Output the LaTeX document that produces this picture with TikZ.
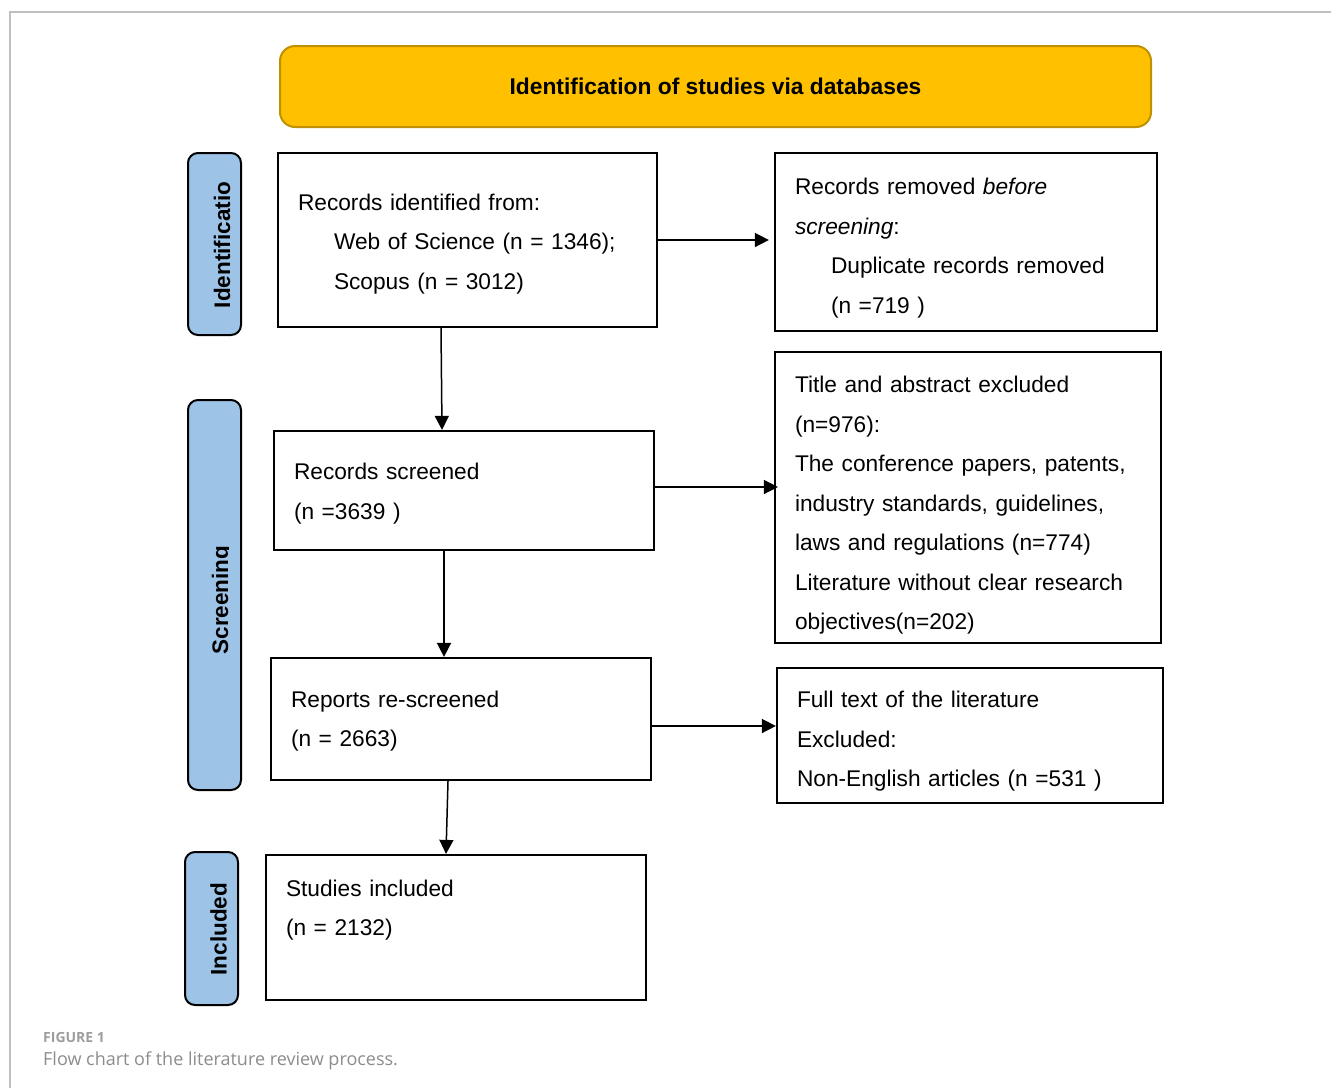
\documentclass[tikz,border=0pt]{standalone}
\usepackage{fontspec}
\setmainfont{Liberation Sans}
\newfontfamily\capfont{Open Sans}
\usetikzlibrary{arrows.meta}

\definecolor{headfill}{HTML}{FFC000}
\definecolor{headline}{HTML}{BF9000}
\definecolor{stagefill}{HTML}{9DC3E6}
\definecolor{framegray}{HTML}{BFBFBF}
\definecolor{capgray}{HTML}{8C8C8C}

\tikzset{
  box/.style={draw, line width=2.2pt, align=left, inner xsep=20pt, inner ysep=0pt,
    font=\fontsize{22.7}{39.5}\selectfont},
  drop/.style={execute at begin node={\rule{0pt}{#1}}},
  stage/.style={draw, line width=2pt, fill=stagefill, rounded corners=10pt, minimum width=53pt},
  stagetext/.style={rotate=90, font=\fontsize{22.5}{27}\selectfont\bfseries},
  arr/.style={line width=1.5pt, -{Triangle[length=14pt,width=14pt]}},
}

\begin{document}
\begin{tikzpicture}[x=1pt, y=-1pt]
    \useasboundingbox (0,0) rectangle (1331,1088);
    % frame of the figure
    \draw[framegray, line width=1.5pt] (10,1088) -- (10,12) -- (1331,12);

    \node[draw=headline, fill=headfill, line width=2pt, rounded corners=15pt,
        minimum width=871pt, minimum height=81pt,
        font=\fontsize{22.8}{27}\selectfont\bfseries] (head) at (715.5,86.5) {Identification of studies via databases};

    % stages
    \node[stage, minimum height=182pt] (idlab) at (214.5,244) {};
    \node[stagetext] (idtxt) at (222,245) {Identificatio};
    \node[stage, minimum height=390pt] (scrlab) at (214.5,595) {};
    \begin{scope}
        \clip (188,400) rectangle (228.2,790);
        \node[stagetext] (scrtxt) at (222.3,600) {Screening};
    \end{scope}
    \node[stage, minimum height=153pt] (inclab) at (211.5,928.5) {};
    \node[stagetext] (inctxt) at (218.5,929) {Included};

    % main column
    \node[box, drop=24.5pt, text width=339pt, minimum height=174pt] (ident) at (467.5,240)
        {Records identified from:\\\hspace*{36pt}Web of Science (n = 1346);\\\hspace*{36pt}Scopus (n = 3012)};
    \node[box, drop=22.5pt, text width=340pt, minimum height=119pt] (screened) at (464,490.5)
        {Records screened\\(n =3639 )};
    \node[box, drop=20.5pt, text width=340pt, minimum height=122pt] (rescr) at (461,719)
        {Reports re-screened\\(n = 2663)};
    \node[box, text width=340pt, minimum height=145pt] (incl) at (456,927.5)
        {Studies included\\(n = 2132)\\\mbox{}};

    % exclusions
    \node[box, drop=28.5pt, text width=342pt, minimum height=178pt] (removed) at (966,242)
        {Records removed \textit{before}\\\textit{screening}:\\\hspace*{36pt}Duplicate records removed\\\hspace*{36pt}(n =719 )};
    \node[box, drop=32.5pt, text width=346pt, minimum height=291pt] (excl) at (968,497.5)
        {Title and abstract excluded\\(n=976):\\The conference papers, patents,\\industry standards, guidelines,\\laws and regulations (n=774)\\Literature without clear research\\objectives(n=202)};
    \node[box, drop=28.5pt, text width=346pt, minimum height=135pt] (fulltext) at (970,735.5)
        {Full text of the literature\\Excluded:\\Non-English articles (n =531 )};

    \draw[arr] ([xshift=-26.5pt]ident.south) -- ([xshift=-22pt]screened.north);
    \draw[arr] ([xshift=-20pt]screened.south) -- ([xshift=-17pt]rescr.north);
    \draw[arr] ([xshift=-13pt]rescr.south) -- ([xshift=-10pt]incl.north);
    \draw[arr] (ident.east) -- ([xshift=-5pt]ident.east -| removed.west);
    \draw[arr] ([yshift=3.5pt]screened.east) -- ([yshift=3.5pt,xshift=4pt]screened.east -| excl.west);
    \draw[arr] ([yshift=-7pt]rescr.east) -- ([yshift=-7pt]rescr.east -| fulltext.west);

    % caption
    \node[anchor=base west, inner sep=0pt, text=capgray!85, font=\capfont\bfseries\fontsize{14}{16}\selectfont] (fig) at (43,1042) {FIGURE 1};
    \node[anchor=base west, inner sep=0pt, text=capgray, font=\capfont\fontsize{18}{21}\selectfont] (cap) at (43,1065) {Flow chart of the literature review process.};
\end{tikzpicture}
\end{document}
